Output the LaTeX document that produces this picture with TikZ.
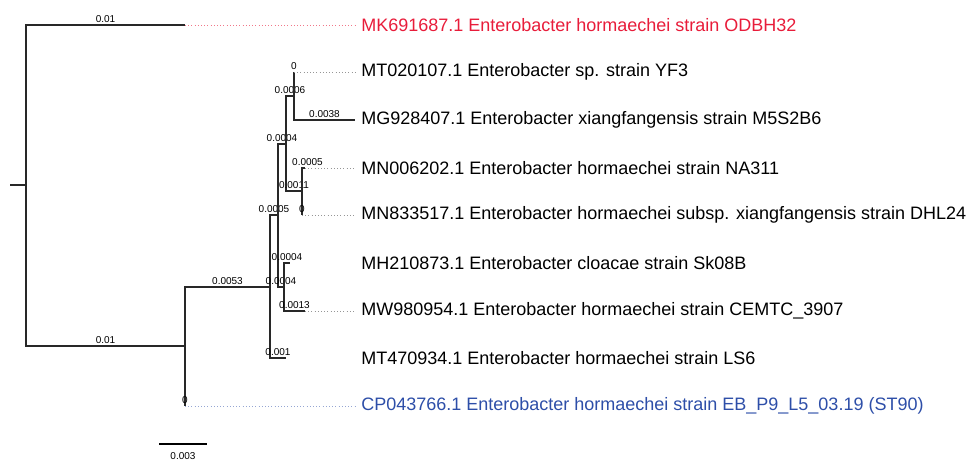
\documentclass[tikz,border=0pt]{standalone}
\usepackage{fontspec}
\setmainfont{Liberation Sans}
\usetikzlibrary{positioning}
\definecolor{brc}{RGB}{40,40,40}
\definecolor{redt}{RGB}{232,28,58}
\definecolor{bluet}{RGB}{45,78,168}
\definecolor{dotc}{RGB}{150,150,150}

\begin{document}
\begin{tikzpicture}[x=0.75pt,y=-0.75pt,
  br/.style={draw=brc,line width=1.05pt},
  lk/.style={draw=dotc,dotted,line width=0.4pt},
  len/.style={font=\fontsize{7.5}{8}\selectfont,inner sep=1pt,above},
  leaf/.style={anchor=west,font=\fontsize{13.5}{15}\selectfont,inner sep=0pt,inner xsep=4.5pt}]

\useasboundingbox (0,0) rectangle (968,461);

%============================== inner nodes ==============================
\coordinate (stub) at (10,185);
\coordinate (rt) at (26,185);
\coordinate (n1) at (185,346);
\coordinate (n2) at (270,287);
\coordinate (n3) at (278,215);
\coordinate (n4) at (286,144);
\coordinate (n5) at (294,96);
\coordinate (n6) at (302,191);
\coordinate (n7) at (284,287);

%============================== tips ==============================
\coordinate (tmk) at (185,25);
\coordinate (tyf) at (294,72);
\coordinate (tm5) at (355,120);
\coordinate (tna) at (305,168);
\coordinate (tdh) at (302,215);
\coordinate (tsk) at (290,263);
\coordinate (tce) at (305,311);
\coordinate (tls) at (286,358);
\coordinate (tcp) at (185,406);

%============================== leaf names ==============================
\node[leaf,text=redt] (mk) at (355,25) {MK691687.1 Enterobacter hormaechei strain ODBH32};
\node[leaf] (yf) at (355,72) {MT020107.1 Enterobacter sp. strain YF3};
\node[leaf] (m5) at (355,120) {MG928407.1 Enterobacter xiangfangensis strain M5S2B6};
\node[leaf] (na) at (355,168) {MN006202.1 Enterobacter hormaechei strain NA311};
\node[leaf] (dh) at (355,215) {MN833517.1 Enterobacter hormaechei subsp. xiangfangensis strain DHL24};
\node[leaf] (sk) at (355,263) {MH210873.1 Enterobacter cloacae strain Sk08B};
\node[leaf] (ce) at (355,311) {MW980954.1 Enterobacter hormaechei strain CEMTC\_3907};
\node[leaf] (ls) at (355,358) {MT470934.1 Enterobacter hormaechei strain LS6};
\node[leaf,text=bluet] (cp) at (355,406) {CP043766.1 Enterobacter hormaechei strain EB\_P9\_L5\_03.19 (ST90)};

%============================== branches ==============================
\draw[br] (stub) -- (rt);
\draw[br] (rt) |- node[len,pos=0.75]{0.01} (tmk);
\draw[br] (rt) |- node[len,pos=0.75]{0.01} (n1);
\draw[br] (n1) |- node[len,pos=0.75]{0.0053} (n2);
\draw[br] (n1) |- node[len,pos=0.75]{0} (tcp);
\draw[br] (n2) |- node[len,pos=0.75]{0.0005} (n3);
\draw[br] (n2) |- node[len,pos=0.75]{0.001} (tls);
\draw[br] (n3) |- node[len,pos=0.75]{0.0004} (n4);
\draw[br] (n3) |- node[len,pos=0.75]{0.0004} (n7);
\draw[br] (n4) |- node[len,pos=0.75]{0.0006} (n5);
\draw[br] (n4) |- node[len,pos=0.75]{0.0011} (n6);
\draw[br] (n5) |- node[len,pos=0.75]{0} (tyf);
\draw[br] (n5) |- node[len,pos=0.75]{0.0038} (tm5);
\draw[br] (n6) |- node[len,pos=0.75,xshift=3pt]{0.0005} (tna);
\draw[br] (n6) |- node[len,pos=0.75]{0} (tdh);
\draw[br] (n7) |- node[len,pos=0.75]{0.0004} (tsk);
\draw[br] (n7) |- node[len,pos=0.75]{0.0013} (tce);

% dotted leaders to the names
\draw[lk,draw=redt!60] (tmk) -- (mk.west);
\draw[lk] (tyf) -- (yf.west);
\draw[lk] (tna) -- (na.west);
\draw[lk] (tdh) -- (dh.west);
\draw[lk] (tce) -- (ce.west);
\draw[lk,draw=bluet!50] (tcp) -- (cp.west);

% scale bar
\coordinate (sb1) at (159,444);
\coordinate (sb2) at (207,444);
\draw[line width=1.1pt] (sb1) -- node[len,below=5pt]{0.003} (sb2);
\end{tikzpicture}
\end{document}
